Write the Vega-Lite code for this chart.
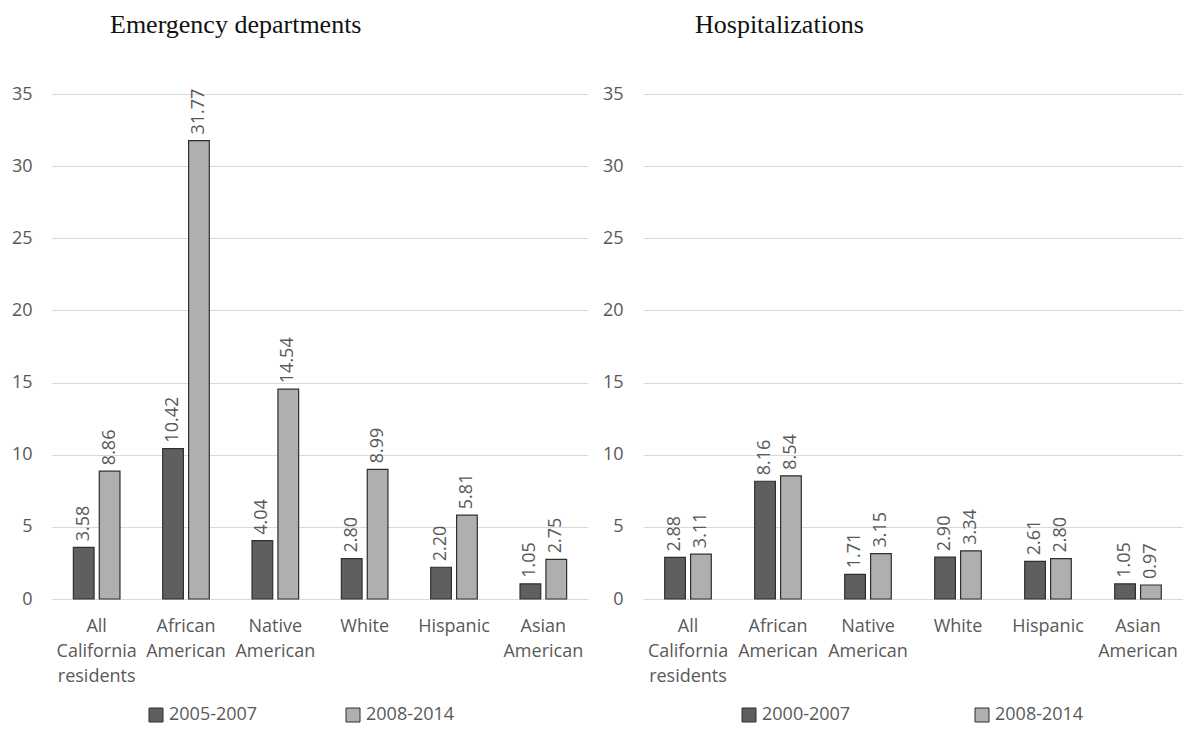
{
  "$schema": "https://vega.github.io/schema/vega-lite/v6.json",
  "padding": {"left": 11, "right": 0, "top": 12, "bottom": 0},
  "background": "white",
  "config": {
    "view": {"stroke": null},
    "font": "Open Sans",
    "axisY": {"domain": false, "ticks": false, "grid": true, "gridColor": "#d9d9d9", "gridWidth": 1, "labelFontSize": 18, "labelColor": "#595959", "labelFont": "Open Sans", "title": null},
    "axisX": {"domain": true, "domainColor": "#d9d9d9", "domainWidth": 1.2, "ticks": false, "grid": false, "labelFontSize": 18, "labelColor": "#595959", "labelFont": "Open Sans", "labelAngle": 0, "labelLineHeight": 25, "labelPadding": 18, "title": null, "labelLimit": 200},
    "legend": {"title": null, "orient": "none", "direction": "horizontal", "symbolType": "square", "symbolSize": 196, "symbolStrokeColor": "#2f2f2f", "symbolStrokeWidth": 1, "symbolOpacity": 1, "labelFontSize": 18, "labelColor": "#595959", "labelFont": "Open Sans", "labelOffset": 4}
  },
  "datasets": {
    "ed": [
      {"group": "All|California|residents", "period": "2005-2007", "value": 3.58},
      {"group": "All|California|residents", "period": "2008-2014", "value": 8.86},
      {"group": "African|American", "period": "2005-2007", "value": 10.42},
      {"group": "African|American", "period": "2008-2014", "value": 31.77},
      {"group": "Native|American", "period": "2005-2007", "value": 4.04},
      {"group": "Native|American", "period": "2008-2014", "value": 14.54},
      {"group": "White", "period": "2005-2007", "value": 2.80},
      {"group": "White", "period": "2008-2014", "value": 8.99},
      {"group": "Hispanic", "period": "2005-2007", "value": 2.20},
      {"group": "Hispanic", "period": "2008-2014", "value": 5.81},
      {"group": "Asian|American", "period": "2005-2007", "value": 1.05},
      {"group": "Asian|American", "period": "2008-2014", "value": 2.75}
    ],
    "hosp": [
      {"group": "All|California|residents", "period": "2000-2007", "value": 2.88},
      {"group": "All|California|residents", "period": "2008-2014", "value": 3.11},
      {"group": "African|American", "period": "2000-2007", "value": 8.16},
      {"group": "African|American", "period": "2008-2014", "value": 8.54},
      {"group": "Native|American", "period": "2000-2007", "value": 1.71},
      {"group": "Native|American", "period": "2008-2014", "value": 3.15},
      {"group": "White", "period": "2000-2007", "value": 2.90},
      {"group": "White", "period": "2008-2014", "value": 3.34},
      {"group": "Hispanic", "period": "2000-2007", "value": 2.61},
      {"group": "Hispanic", "period": "2008-2014", "value": 2.80},
      {"group": "Asian|American", "period": "2000-2007", "value": 1.05},
      {"group": "Asian|American", "period": "2008-2014", "value": 0.97}
    ]
  },
  "spacing": 14,
  "resolve": {"scale": {"color": "independent"}, "legend": {"color": "independent"}},
  "hconcat": [
    {
      "title": {"text": "Emergency departments", "anchor": "start", "frame": "group", "dx": 58, "offset": 26, "font": "Liberation Serif", "fontSize": 26, "fontWeight": "normal", "color": "#111111", "baseline": "alphabetic"},
      "data": {"name": "ed"},
      "width": 536,
      "height": 505,
      "encoding": {
        "x": {"field": "group", "type": "nominal", "sort": null, "axis": {"labelExpr": "split(datum.label, '|')"}},
        "y": {"field": "value", "type": "quantitative", "scale": {"domain": [0, 35]}, "axis": {"values": [0, 5, 10, 15, 20, 25, 30, 35], "labelPadding": 20}}
      },
      "layer": [
        {
          "transform": [{"filter": "datum.period == '2005-2007'"}],
          "mark": {"type": "bar", "width": 20.7, "xOffset": -12.95, "stroke": "#2f2f2f", "strokeWidth": 1.2},
          "encoding": {
            "color": {"field": "period", "type": "nominal", "scale": {"domain": ["2005-2007", "2008-2014"], "range": ["#5f5f5f", "#afafaf"]},
              "legend": {"legendX": 95, "legendY": 612, "columnPadding": 86}}
          }
        },
        {
          "transform": [{"filter": "datum.period == '2008-2014'"}],
          "mark": {"type": "bar", "width": 20.7, "xOffset": 12.95, "stroke": "#2f2f2f", "strokeWidth": 1.2},
          "encoding": {
            "color": {"field": "period", "type": "nominal"}
          }
        },
        {
          "transform": [{"filter": "datum.period == '2005-2007'"}],
          "mark": {"type": "text", "xOffset": -12.95, "angle": 270, "align": "left", "baseline": "middle", "dx": 6, "fontSize": 18, "color": "#595959", "font": "Open Sans"},
          "encoding": {"text": {"field": "value", "type": "quantitative", "format": ".2f"}}
        },
        {
          "transform": [{"filter": "datum.period == '2008-2014'"}],
          "mark": {"type": "text", "xOffset": 12.95, "angle": 270, "align": "left", "baseline": "middle", "dx": 6, "fontSize": 18, "color": "#595959", "font": "Open Sans"},
          "encoding": {"text": {"field": "value", "type": "quantitative", "format": ".2f"}}
        }
      ]
    },
    {
      "title": {"text": "Hospitalizations", "anchor": "start", "frame": "group", "dx": 52, "offset": 26, "font": "Liberation Serif", "fontSize": 26, "fontWeight": "normal", "color": "#111111", "baseline": "alphabetic"},
      "data": {"name": "hosp"},
      "width": 540,
      "height": 505,
      "encoding": {
        "x": {"field": "group", "type": "nominal", "sort": null, "axis": {"labelExpr": "split(datum.label, '|')"}},
        "y": {"field": "value", "type": "quantitative", "scale": {"domain": [0, 35]}, "axis": {"values": [0, 5, 10, 15, 20, 25, 30, 35], "labelPadding": 20}}
      },
      "layer": [
        {
          "transform": [{"filter": "datum.period == '2000-2007'"}],
          "mark": {"type": "bar", "width": 20.7, "xOffset": -12.95, "stroke": "#2f2f2f", "strokeWidth": 1.2},
          "encoding": {
            "color": {"field": "period", "type": "nominal", "scale": {"domain": ["2000-2007", "2008-2014"], "range": ["#5f5f5f", "#afafaf"]},
              "legend": {"legendX": 97, "legendY": 612, "columnPadding": 122}}
          }
        },
        {
          "transform": [{"filter": "datum.period == '2008-2014'"}],
          "mark": {"type": "bar", "width": 20.7, "xOffset": 12.95, "stroke": "#2f2f2f", "strokeWidth": 1.2},
          "encoding": {
            "color": {"field": "period", "type": "nominal"}
          }
        },
        {
          "transform": [{"filter": "datum.period == '2000-2007'"}],
          "mark": {"type": "text", "xOffset": -12.95, "angle": 270, "align": "left", "baseline": "middle", "dx": 6, "fontSize": 18, "color": "#595959", "font": "Open Sans"},
          "encoding": {"text": {"field": "value", "type": "quantitative", "format": ".2f"}}
        },
        {
          "transform": [{"filter": "datum.period == '2008-2014'"}],
          "mark": {"type": "text", "xOffset": 12.95, "angle": 270, "align": "left", "baseline": "middle", "dx": 6, "fontSize": 18, "color": "#595959", "font": "Open Sans"},
          "encoding": {"text": {"field": "value", "type": "quantitative", "format": ".2f"}}
        }
      ]
    }
  ]
}
